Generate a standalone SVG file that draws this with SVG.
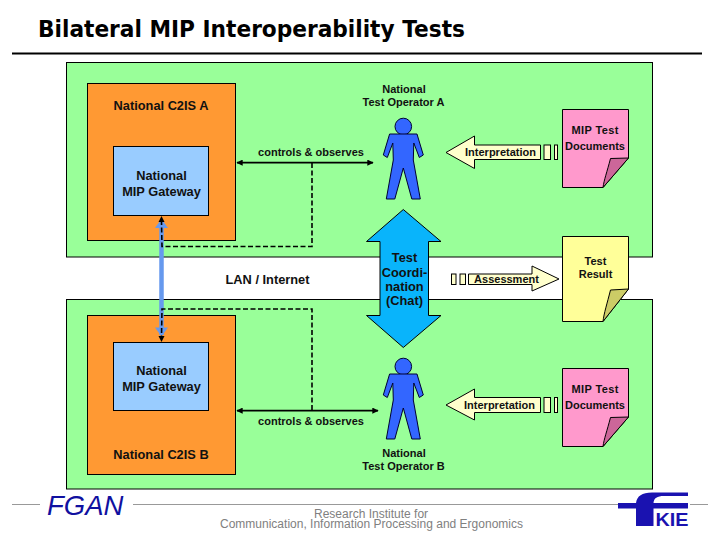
<svg xmlns="http://www.w3.org/2000/svg" width="720" height="540" viewBox="0 0 720 540">
<style>
text{font-family:"Liberation Sans",Arial,sans-serif;fill:#111;text-anchor:middle}
.l{font-size:12.800px;font-weight:bold}
.m{font-size:11px;font-weight:bold}
.s{font-size:11px;font-weight:bold}
.box{stroke:#000;stroke-width:1}
.green{fill:#99FF99}.orange{fill:#FF9933}.gw{fill:#99CCFF}
.person{fill:#3366FF;stroke:#003;stroke-width:1}
.ptr{fill:#FFFFCC;stroke:#000;stroke-width:1}
.chat{fill:#09B4FB;stroke:#000;stroke-width:1}
.solid{fill:none;stroke:#000;stroke-width:1.800;marker-start:url(#ah);marker-end:url(#ah)}
.dash{fill:none;stroke:#000;stroke-width:1.600;stroke-dasharray:5 2.500}
.foot{fill:#808080;font-size:12px;text-anchor:start}
.rule{stroke:#999;stroke-width:1}
</style>
<defs>
<marker id="ah" viewBox="0 0 10 10" refX="9" refY="5" markerWidth="3.500" markerHeight="3.500" orient="auto-start-reverse"><path d="M0 0 10 5 0 10z" fill="#000"/></marker>
<g id="man"><circle cx="0" cy="-24" r="8.300"/><path d="M-13.700-16.500H13.700L20 4.500 16 7 10.500-7.500 10 9.500 17 48.500H8.500L0 17.500-8.500 48.500H-17L-10 9.500-10.500-7.500-16 7-20 4.500z"/></g>
</defs>

<rect id="zoneA" class="box green" x="66.500" y="62.500" width="586" height="194.500"/>
<rect id="zoneB" class="box green" x="66.500" y="299.500" width="586" height="189.500"/>

<g id="c2isA"><rect class="box orange" x="87.500" y="83.500" width="148" height="157"/><text class="l" x="161" y="110">National C2IS A</text></g>
<g id="gatewayA"><rect class="box gw" x="113.500" y="146.500" width="95" height="69"/><text class="l" x="161.500" y="180">National</text><text class="l" x="161.500" y="196">MIP Gateway</text></g>
<g id="c2isB"><rect class="box orange" x="87.500" y="315.500" width="148" height="159"/><text class="l" x="161" y="459">National C2IS B</text></g>
<g id="gatewayB"><rect class="box gw" x="113.500" y="342.500" width="95" height="68"/><text class="l" x="161.500" y="375">National</text><text class="l" x="161.500" y="391">MIP Gateway</text></g>

<g id="connectors">
<path d="M161.500 222V335" fill="none" stroke="#6699EE" stroke-width="4.500"/>
<path d="M155 228 161.500 219 168 228zM155 327.500 161.500 336.500 168 327.500z" fill="#6699EE"/>
<path class="solid" d="M237 162.700H373"/>
<path class="solid" d="M237 410.700H378"/>
<path class="dash" d="M312 163V246.500H162L161.500 222"/>
<path d="M158.500 222 161.500 216 164.500 222z" fill="#000"/>
<path class="dash" d="M312 410V309H162L161.500 336"/>
<path d="M158.500 336 161.500 342 164.500 336z" fill="#000"/>
</g>
<text class="m" x="311" y="156">controls &amp; observes</text>
<text class="m" x="311" y="425">controls &amp; observes</text>
<text class="l" x="267.500" y="284">LAN / Internet</text>

<g id="operatorA"><use href="#man" x="403.300" y="150.500" class="person"/><text class="s" x="404" y="93">National</text><text class="s" x="403.500" y="106">Test Operator A</text></g>
<g id="operatorB"><use href="#man" x="403.300" y="390.500" class="person"/><text class="s" x="404" y="457">National</text><text class="s" x="403.500" y="470">Test Operator B</text></g>

<g id="chat"><path class="chat" d="M403.300 209.500 441 241.500H428.500V315.500H441L403.300 347.500 366.500 315.500H380V241.500H366.500z"/>
<text class="l" x="404.500" y="262">Test</text><text class="l" x="404.500" y="277">Coordi-</text><text class="l" x="404.500" y="291">nation</text><text class="l" x="404.500" y="305">(Chat)</text></g>

<g id="interpretationA"><path class="ptr" d="M446 152.500 474.500 136V145H540.500V159.500H474.500V168.500z"/><rect class="ptr" x="544" y="145" width="6.500" height="14.500"/><rect class="ptr" x="554.500" y="145" width="3" height="14.500"/><text class="m" x="500.500" y="156">Interpretation</text></g>
<g id="interpretationB"><path class="ptr" d="M446 405 474.500 389V397.500H540.500V412.500H474.500V420z"/><rect class="ptr" x="544" y="397.500" width="6.500" height="15"/><rect class="ptr" x="554.500" y="397.500" width="3" height="15"/><text class="m" x="499.500" y="409">Interpretation</text></g>
<g id="assessment"><path class="ptr" d="M559 279 532 266V274H468.500V284.500H532V291z"/><rect class="ptr" x="451.500" y="274" width="4.500" height="10.500"/><rect class="ptr" x="460" y="274" width="5.500" height="10.500"/><text class="m" x="506.500" y="283">Assessment</text></g>

<g id="docA"><path class="box" fill="#FF99CC" d="M562.500 109.500H628.500V158L603 187.500H562.500z"/><path class="box" fill="#CC6699" d="M603 187.500 628.500 158 610.500 158.500C607 172 604 180 603 187.500z"/><text class="m" x="595" y="134" textLength="47">MIP Test</text><text class="m" x="595" y="150">Documents</text></g>
<g id="docB"><path class="box" fill="#FF99CC" d="M562.500 368.500H628.500V417L603 446.500H562.500z"/><path class="box" fill="#CC6699" d="M603 446.500 628.500 417 610.500 417.500C607 431 604 439 603 446.500z"/><text class="m" x="595" y="393" textLength="47">MIP Test</text><text class="m" x="595" y="409">Documents</text></g>
<g id="result"><path class="box" fill="#FFFF99" d="M562.500 236.500H628.500V289L603 321.500H562.500z"/><path class="box" fill="#CCCC66" d="M603 321.500 628.500 289 610.500 290C607 304 604 313 603 321.500z"/><text class="m" x="595.500" y="265">Test</text><text class="m" x="595.500" y="278">Result</text></g>

<g id="header"><text x="38" y="37" style="font-family:'DejaVu Sans',sans-serif;font-size:23px;font-weight:bold;text-anchor:start;fill:#000" textLength="427" lengthAdjust="spacingAndGlyphs">Bilateral MIP Interoperability Tests</text><path d="M12 53.500H702" stroke="#000" stroke-width="2"/></g>

<g id="footer">
<path class="rule" d="M12 504.500H40M133 504.500H620M690 504.500H708"/>
<text x="47" y="515" style="font-size:27.500px;font-style:italic;fill:#1010A0;text-anchor:start">FGAN</text>
<text class="foot" x="314" y="518">Research Institute for</text>
<text class="foot" x="220" y="528" textLength="303">Communication, Information Processing and Ergonomics</text>
<path d="M618 503H636C637 496 642 492.500 652 492.500H688V496H664C657 496 654 498 653.500 503H688V508.500H653.500V526H636V508.500H618z" fill="#1A12B0"/>
<text x="655.500" y="526" textLength="33" lengthAdjust="spacingAndGlyphs" style="font-size:19px;font-weight:bold;fill:#1A12B0;text-anchor:start">KIE</text>
</g>
</svg>
